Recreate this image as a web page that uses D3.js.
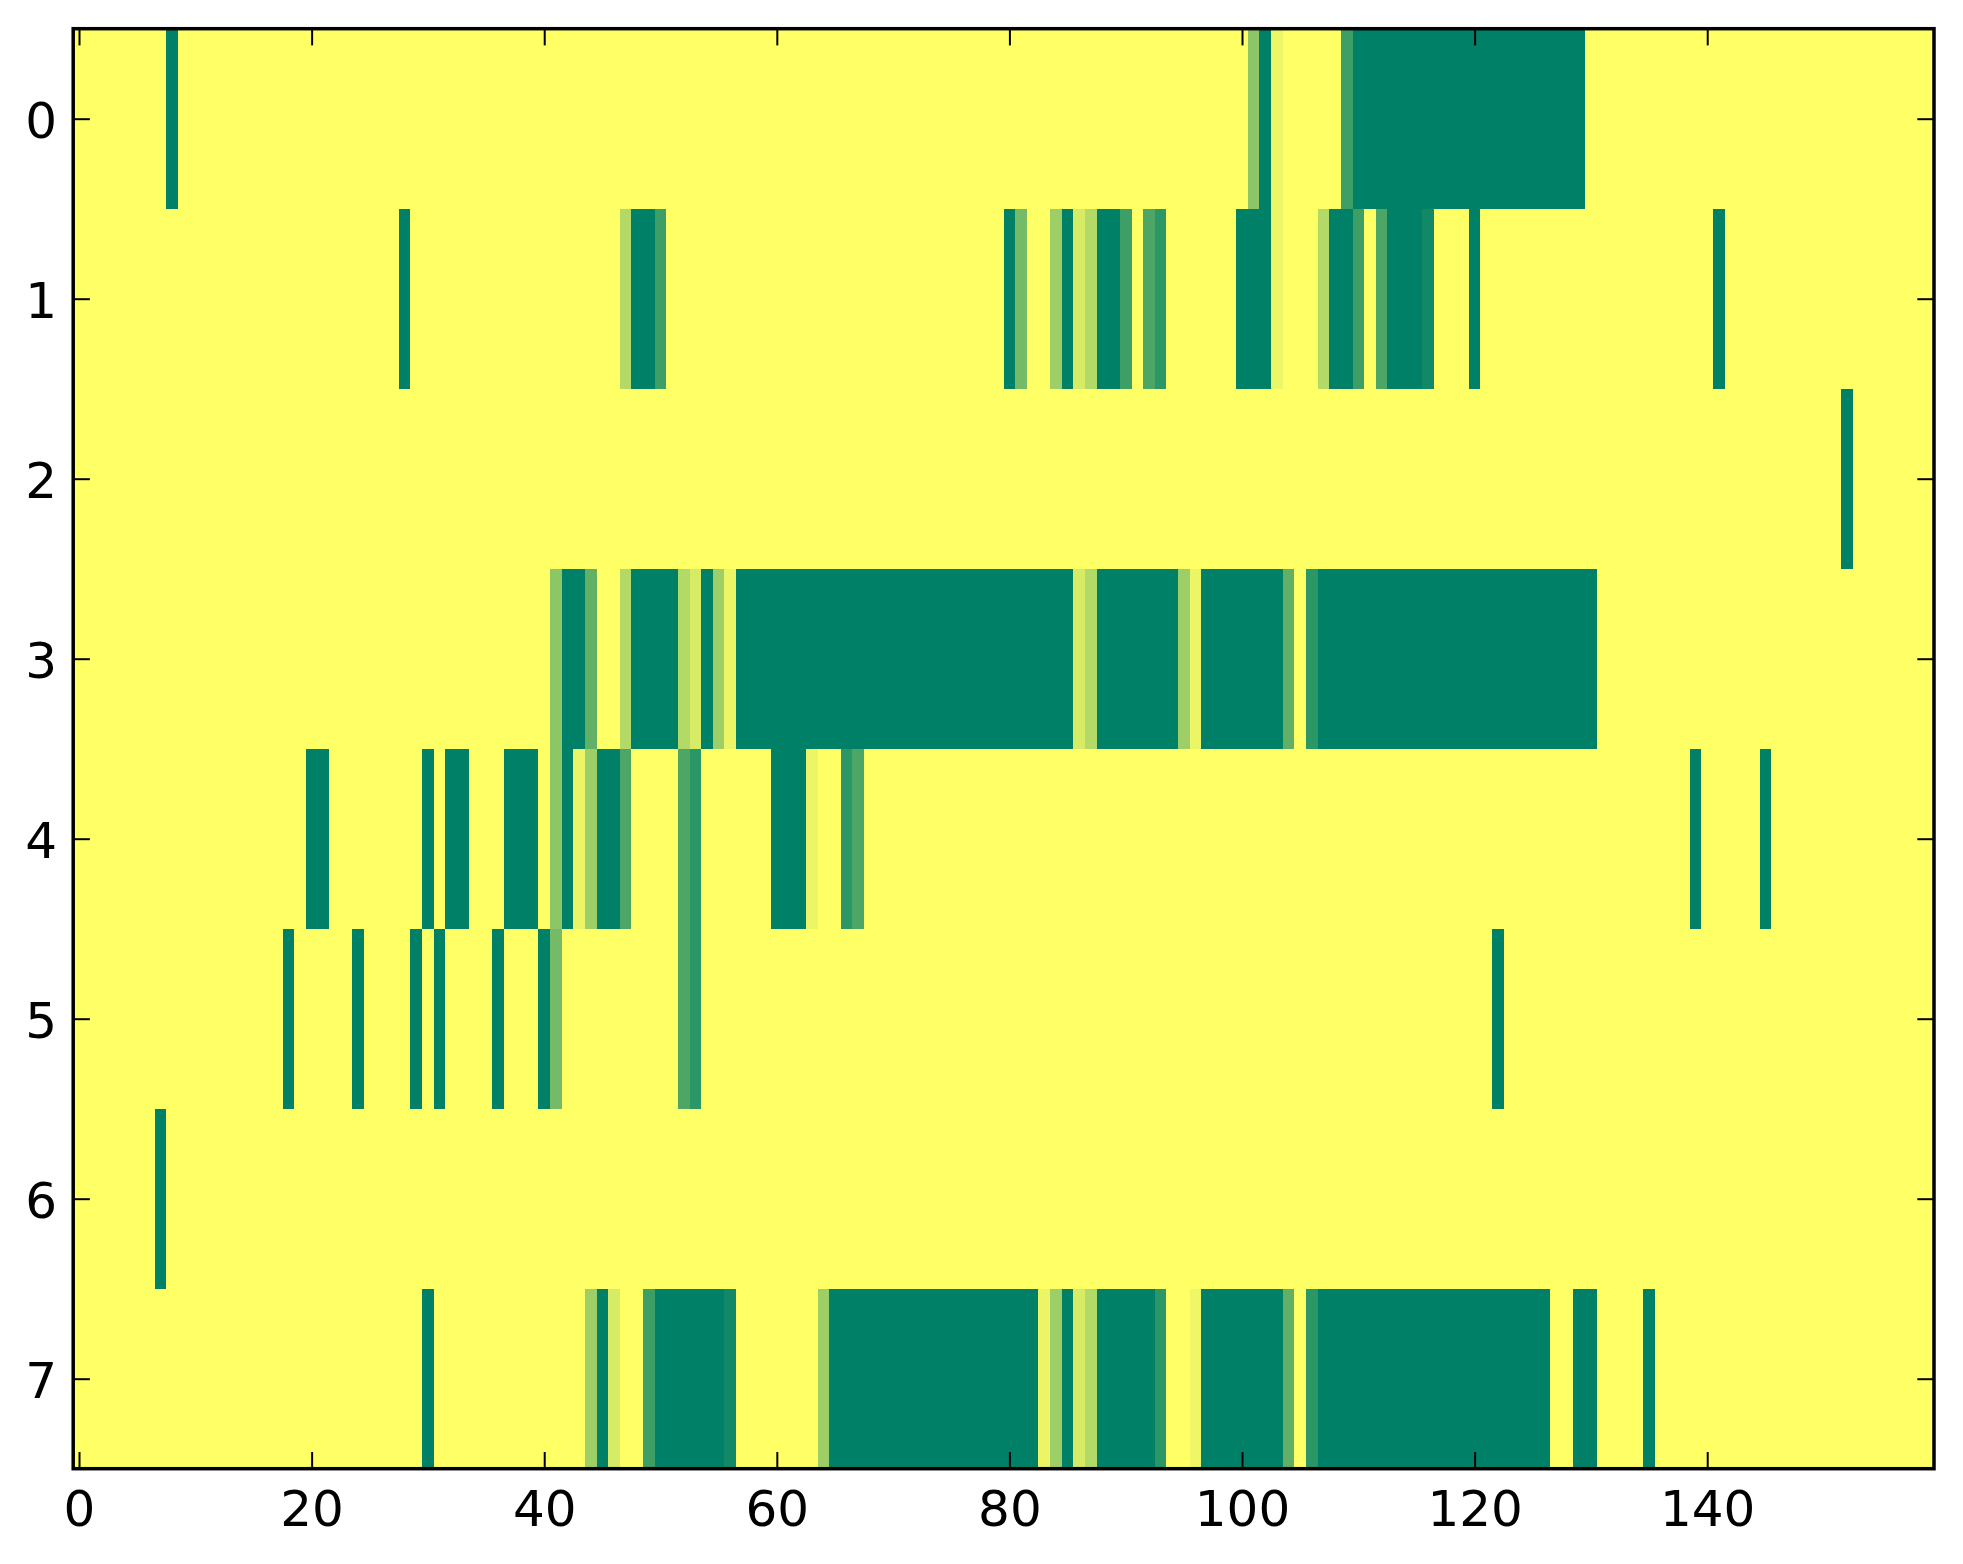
<!DOCTYPE html>
<html>
<head>
    <meta charset="utf-8">
    <title>Heatmap</title>
    <script src="https://d3js.org/d3.v7.min.js"></script>
    <style>
        body { margin: 0; background: #fff; }
        svg { display: block; }
    </style>
</head>
<body>
    <div id="chart"></div>

    <script>
        // Number of columns and row labels
        var nCols = 160;
        var rowLabels = [0, 1, 2, 3, 4, 5, 6, 7];
        var xTicks = [0, 20, 40, 60, 80, 100, 120, 140];

        // Non-zero cells of each row as [firstCol, lastCol, value]; everything else is 0
        var row0 = [[8, 8, 1], [101, 101, 0.45], [102, 102, 1], [103, 103, 0.07], [109, 109, 0.76], [110, 129, 1]];
        var row1 = [[28, 28, 1], [47, 47, 0.3], [48, 49, 1], [50, 50, 0.76], [80, 80, 1], [81, 81, 0.54],
                    [84, 84, 0.38], [85, 85, 1], [86, 86, 0.16], [87, 87, 0.3], [88, 89, 1], [90, 90, 0.76],
                    [92, 92, 0.7], [93, 93, 0.83], [100, 102, 1], [103, 103, 0.07], [107, 107, 0.3],
                    [108, 109, 1], [110, 110, 0.76], [112, 112, 0.7], [113, 115, 1], [116, 116, 0.93],
                    [120, 120, 1], [141, 141, 1]];
        var row2 = [[152, 152, 1]];
        var row3 = [[41, 41, 0.45], [42, 43, 1], [44, 44, 0.62], [47, 47, 0.3], [48, 51, 1], [52, 52, 0.3],
                    [53, 53, 0.16], [54, 54, 1], [55, 55, 0.38], [56, 56, 0.08], [57, 85, 1], [86, 86, 0.16],
                    [87, 87, 0.3], [88, 94, 1], [95, 95, 0.38], [96, 96, 0.08], [97, 103, 1], [104, 104, 0.62],
                    [106, 106, 0.83], [107, 130, 1]];
        var row4 = [[20, 21, 1], [30, 30, 1], [32, 33, 1], [37, 39, 1], [41, 41, 0.45], [42, 42, 1],
                    [43, 43, 0.08], [44, 44, 0.38], [45, 46, 1], [47, 47, 0.7], [52, 52, 0.7], [53, 53, 0.83],
                    [60, 62, 1], [63, 63, 0.08], [66, 66, 0.83], [67, 67, 0.7], [139, 139, 1], [145, 145, 1]];
        var row5 = [[18, 18, 1], [24, 24, 1], [29, 29, 1], [31, 31, 1], [36, 36, 1], [40, 40, 1],
                    [41, 41, 0.54], [52, 52, 0.7], [53, 53, 0.83], [122, 122, 1]];
        var row6 = [[7, 7, 1]];
        var row7 = [[30, 30, 1], [44, 44, 0.38], [45, 45, 1], [46, 46, 0.16], [49, 49, 0.76], [50, 55, 1],
                    [56, 56, 0.93], [64, 64, 0.38], [65, 82, 1], [83, 83, 0.08], [84, 84, 0.38], [85, 85, 1],
                    [86, 86, 0.16], [87, 87, 0.3], [88, 92, 1], [93, 93, 0.83], [96, 96, 0.06], [97, 103, 1],
                    [104, 104, 0.62], [106, 106, 0.83], [107, 126, 1], [129, 130, 1], [135, 135, 1]];

        var rows = [row0, row1, row2, row3, row4, row5, row6, row7];

        // Build the full grid of cells
        var cells = [];
        rows.forEach(function(segs, r) {
            var vals = new Array(nCols).fill(0);
            segs.forEach(function(s) {
                for (var c = s[0]; c <= s[1]; c++) vals[c] = s[2];
            });
            vals.forEach(function(v, c) { cells.push({ row: r, col: c, value: v }); });
        });

        // Chart dimensions
        var width = 1963;
        var height = 1564;
        var plotLeft = 73.2, plotRight = 1934, plotTop = 28.7, plotBottom = 1468.7;
        var tickLen = 16.7;

        var svg = d3.select("#chart")
            .append("svg")
            .attr("width", width)
            .attr("height", height);

        var x = d3.scaleLinear().domain([-0.5, nCols - 0.5]).range([plotLeft, plotRight]);
        var y = d3.scaleLinear().domain([-0.5, rowLabels.length - 0.5]).range([plotTop, plotBottom]);

        // summer_r colormap: yellow at 0, green at 1
        var color = d3.scaleLinear().domain([0, 1]).range(["#ffff66", "#008066"]);

        // Cells
        svg.append("g")
            .attr("shape-rendering", "crispEdges")
            .selectAll("rect")
            .data(cells)
            .enter()
            .append("rect")
            .attr("x", function(d) { return x(d.col - 0.5); })
            .attr("y", function(d) { return y(d.row - 0.5); })
            .attr("width", function(d) { return x(d.col + 0.5) - x(d.col - 0.5) + 0.4; })
            .attr("height", function(d) { return y(d.row + 0.5) - y(d.row - 0.5) + 0.4; })
            .attr("fill", function(d) { return color(d.value); });

        // Axes, ticks pointing inwards on all four sides
        function styleAxis(g) {
            g.select(".domain").remove();
            g.selectAll(".tick line").attr("stroke", "#000").attr("stroke-width", 2);
            g.selectAll(".tick text")
                .attr("fill", "#000")
                .style("font-family", "'DejaVu Sans', sans-serif")
                .style("font-size", "50px");
        }

        svg.append("g")
            .attr("transform", "translate(0," + plotBottom + ")")
            .call(d3.axisBottom(x).tickValues(xTicks).tickFormat(d3.format("d"))
                .tickSizeInner(-tickLen).tickSizeOuter(0).tickPadding(21.8))
            .call(styleAxis);

        svg.append("g")
            .attr("transform", "translate(0," + plotTop + ")")
            .call(d3.axisTop(x).tickValues(xTicks).tickFormat("")
                .tickSizeInner(-tickLen).tickSizeOuter(0))
            .call(styleAxis);

        svg.append("g")
            .attr("transform", "translate(" + plotLeft + ",0)")
            .call(d3.axisLeft(y).tickValues(rowLabels).tickFormat(d3.format("d"))
                .tickSizeInner(-tickLen).tickSizeOuter(0).tickPadding(16.2))
            .call(styleAxis)
            .selectAll(".tick text").attr("dy", "0.37em");

        svg.append("g")
            .attr("transform", "translate(" + plotRight + ",0)")
            .call(d3.axisRight(y).tickValues(rowLabels).tickFormat("")
                .tickSizeInner(-tickLen).tickSizeOuter(0))
            .call(styleAxis);

        // Frame
        svg.append("rect")
            .attr("x", plotLeft)
            .attr("y", plotTop)
            .attr("width", plotRight - plotLeft)
            .attr("height", plotBottom - plotTop)
            .attr("fill", "none")
            .attr("stroke", "#000")
            .attr("stroke-width", 3.5);
    </script>
</body>
</html>
